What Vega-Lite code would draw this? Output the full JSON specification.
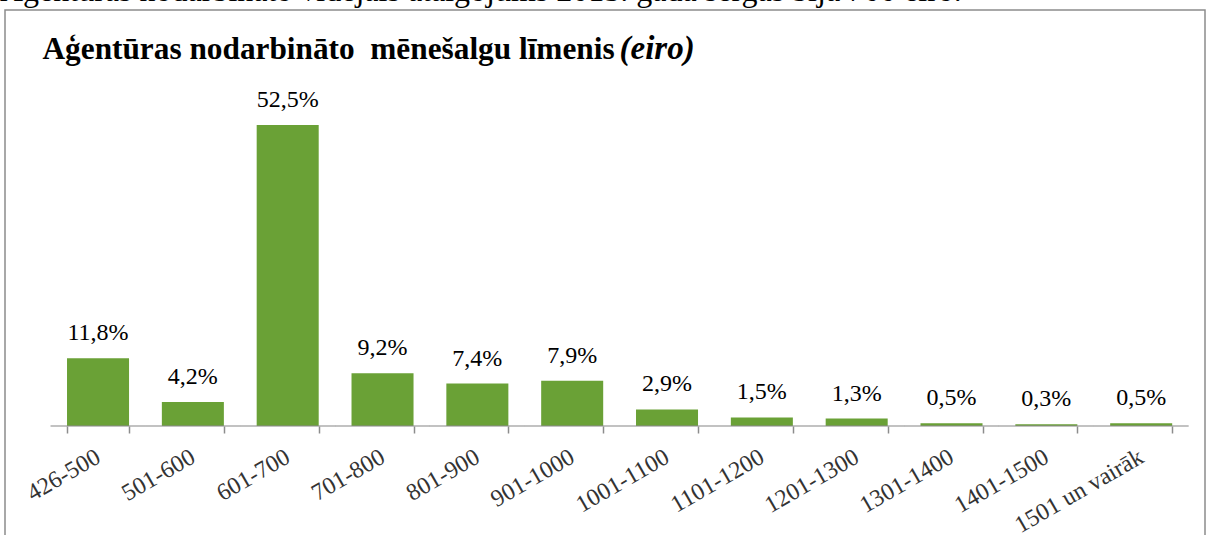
{
  "$schema": "https://vega.github.io/schema/vega-lite/v6.json",
  "width": 1200,
  "height": 530,
  "autosize": {"type": "none"},
  "padding": {"left": 5, "top": 10, "right": 5, "bottom": 0},
  "background": "white",
  "config": {
    "view": {"stroke": "#8c8c8c", "strokeWidth": 1.5},
    "text": {"font": "Liberation Serif"}
  },
  "title": {
    "text": "Aģentūras nodarbināto vidējais atalgojums 2015. gadā sergās bija 700 eiro.",
    "anchor": "start",
    "frame": "group",
    "font": "Liberation Serif",
    "fontSize": 32,
    "fontWeight": "normal",
    "color": "black",
    "dx": -5,
    "offset": -23,
    "baseline": "alphabetic"
  },
  "data": {
    "values": [
      {"cat": "426-500", "value": 11.8, "label": "11,8%"},
      {"cat": "501-600", "value": 4.2, "label": "4,2%"},
      {"cat": "601-700", "value": 52.5, "label": "52,5%"},
      {"cat": "701-800", "value": 9.2, "label": "9,2%"},
      {"cat": "801-900", "value": 7.4, "label": "7,4%"},
      {"cat": "901-1000", "value": 7.9, "label": "7,9%"},
      {"cat": "1001-1100", "value": 2.9, "label": "2,9%"},
      {"cat": "1101-1200", "value": 1.5, "label": "1,5%"},
      {"cat": "1201-1300", "value": 1.3, "label": "1,3%"},
      {"cat": "1301-1400", "value": 0.5, "label": "0,5%"},
      {"cat": "1401-1500", "value": 0.3, "label": "0,3%"},
      {"cat": "1501 un vairāk", "value": 0.5, "label": "0,5%"}
    ]
  },
  "encoding": {
    "x": {
      "field": "cat",
      "type": "nominal",
      "sort": null,
      "scale": {"paddingInner": 0.346, "paddingOuter": 0.5, "align": 0.654},
      "axis": {
        "orient": "bottom",
        "offset": -114,
        "domain": false,
        "grid": false,
        "tickBand": "extent",
        "ticks": true,
        "tickSize": 7,
        "tickColor": "#8c8c8c",
        "tickWidth": 1.5,
        "labelAngle": -30,
        "labelAlign": "right",
        "labelBaseline": "middle",
        "labelFont": "Liberation Serif",
        "labelFontSize": 24,
        "labelColor": "#333333",
        "labelPadding": 22,
        "labelOverlap": false,
        "labelBound": false,
        "labelFlush": false,
        "title": "(eiro)",
        "titleFont": "Liberation Serif",
        "titleFontSize": 33,
        "titleFontStyle": "italic",
        "titleFontWeight": "bold",
        "titleColor": "black",
        "titleAngle": 0,
        "titleAlign": "left",
        "titleBaseline": "alphabetic",
        "titleX": 614,
        "titleY": -368
      }
    }
  },
  "layer": [
    {
      "mark": {"type": "bar", "color": "#6aa136"},
      "encoding": {
        "y": {
          "field": "value",
          "type": "quantitative",
          "scale": {"domain": [-19.88, 72.56], "nice": false, "zero": false},
          "axis": {
            "title": "Aģentūras nodarbināto\u00a0 mēnešalgu līmenis",
            "labels": false,
            "ticks": false,
            "domain": false,
            "grid": false,
            "titleAngle": 0,
            "titleX": 37,
            "titleY": 48,
            "titleAlign": "left",
            "titleBaseline": "alphabetic",
            "titleFont": "Liberation Serif",
            "titleFontSize": 31.3,
            "titleFontWeight": "bold",
            "titleColor": "black"
          }
        },
        "y2": {"datum": 0}
      }
    },
    {
      "mark": {
        "type": "text",
        "font": "Liberation Serif",
        "fontSize": 24,
        "color": "black",
        "baseline": "alphabetic",
        "dy": -18
      },
      "encoding": {
        "y": {"field": "value", "type": "quantitative"},
        "text": {"field": "label", "type": "nominal"}
      }
    },
    {
      "mark": {"type": "tick", "orient": "horizontal", "size": 95, "thickness": 1.5, "color": "#8c8c8c"},
      "encoding": {
        "y": {"datum": 0}
      }
    }
  ]
}
